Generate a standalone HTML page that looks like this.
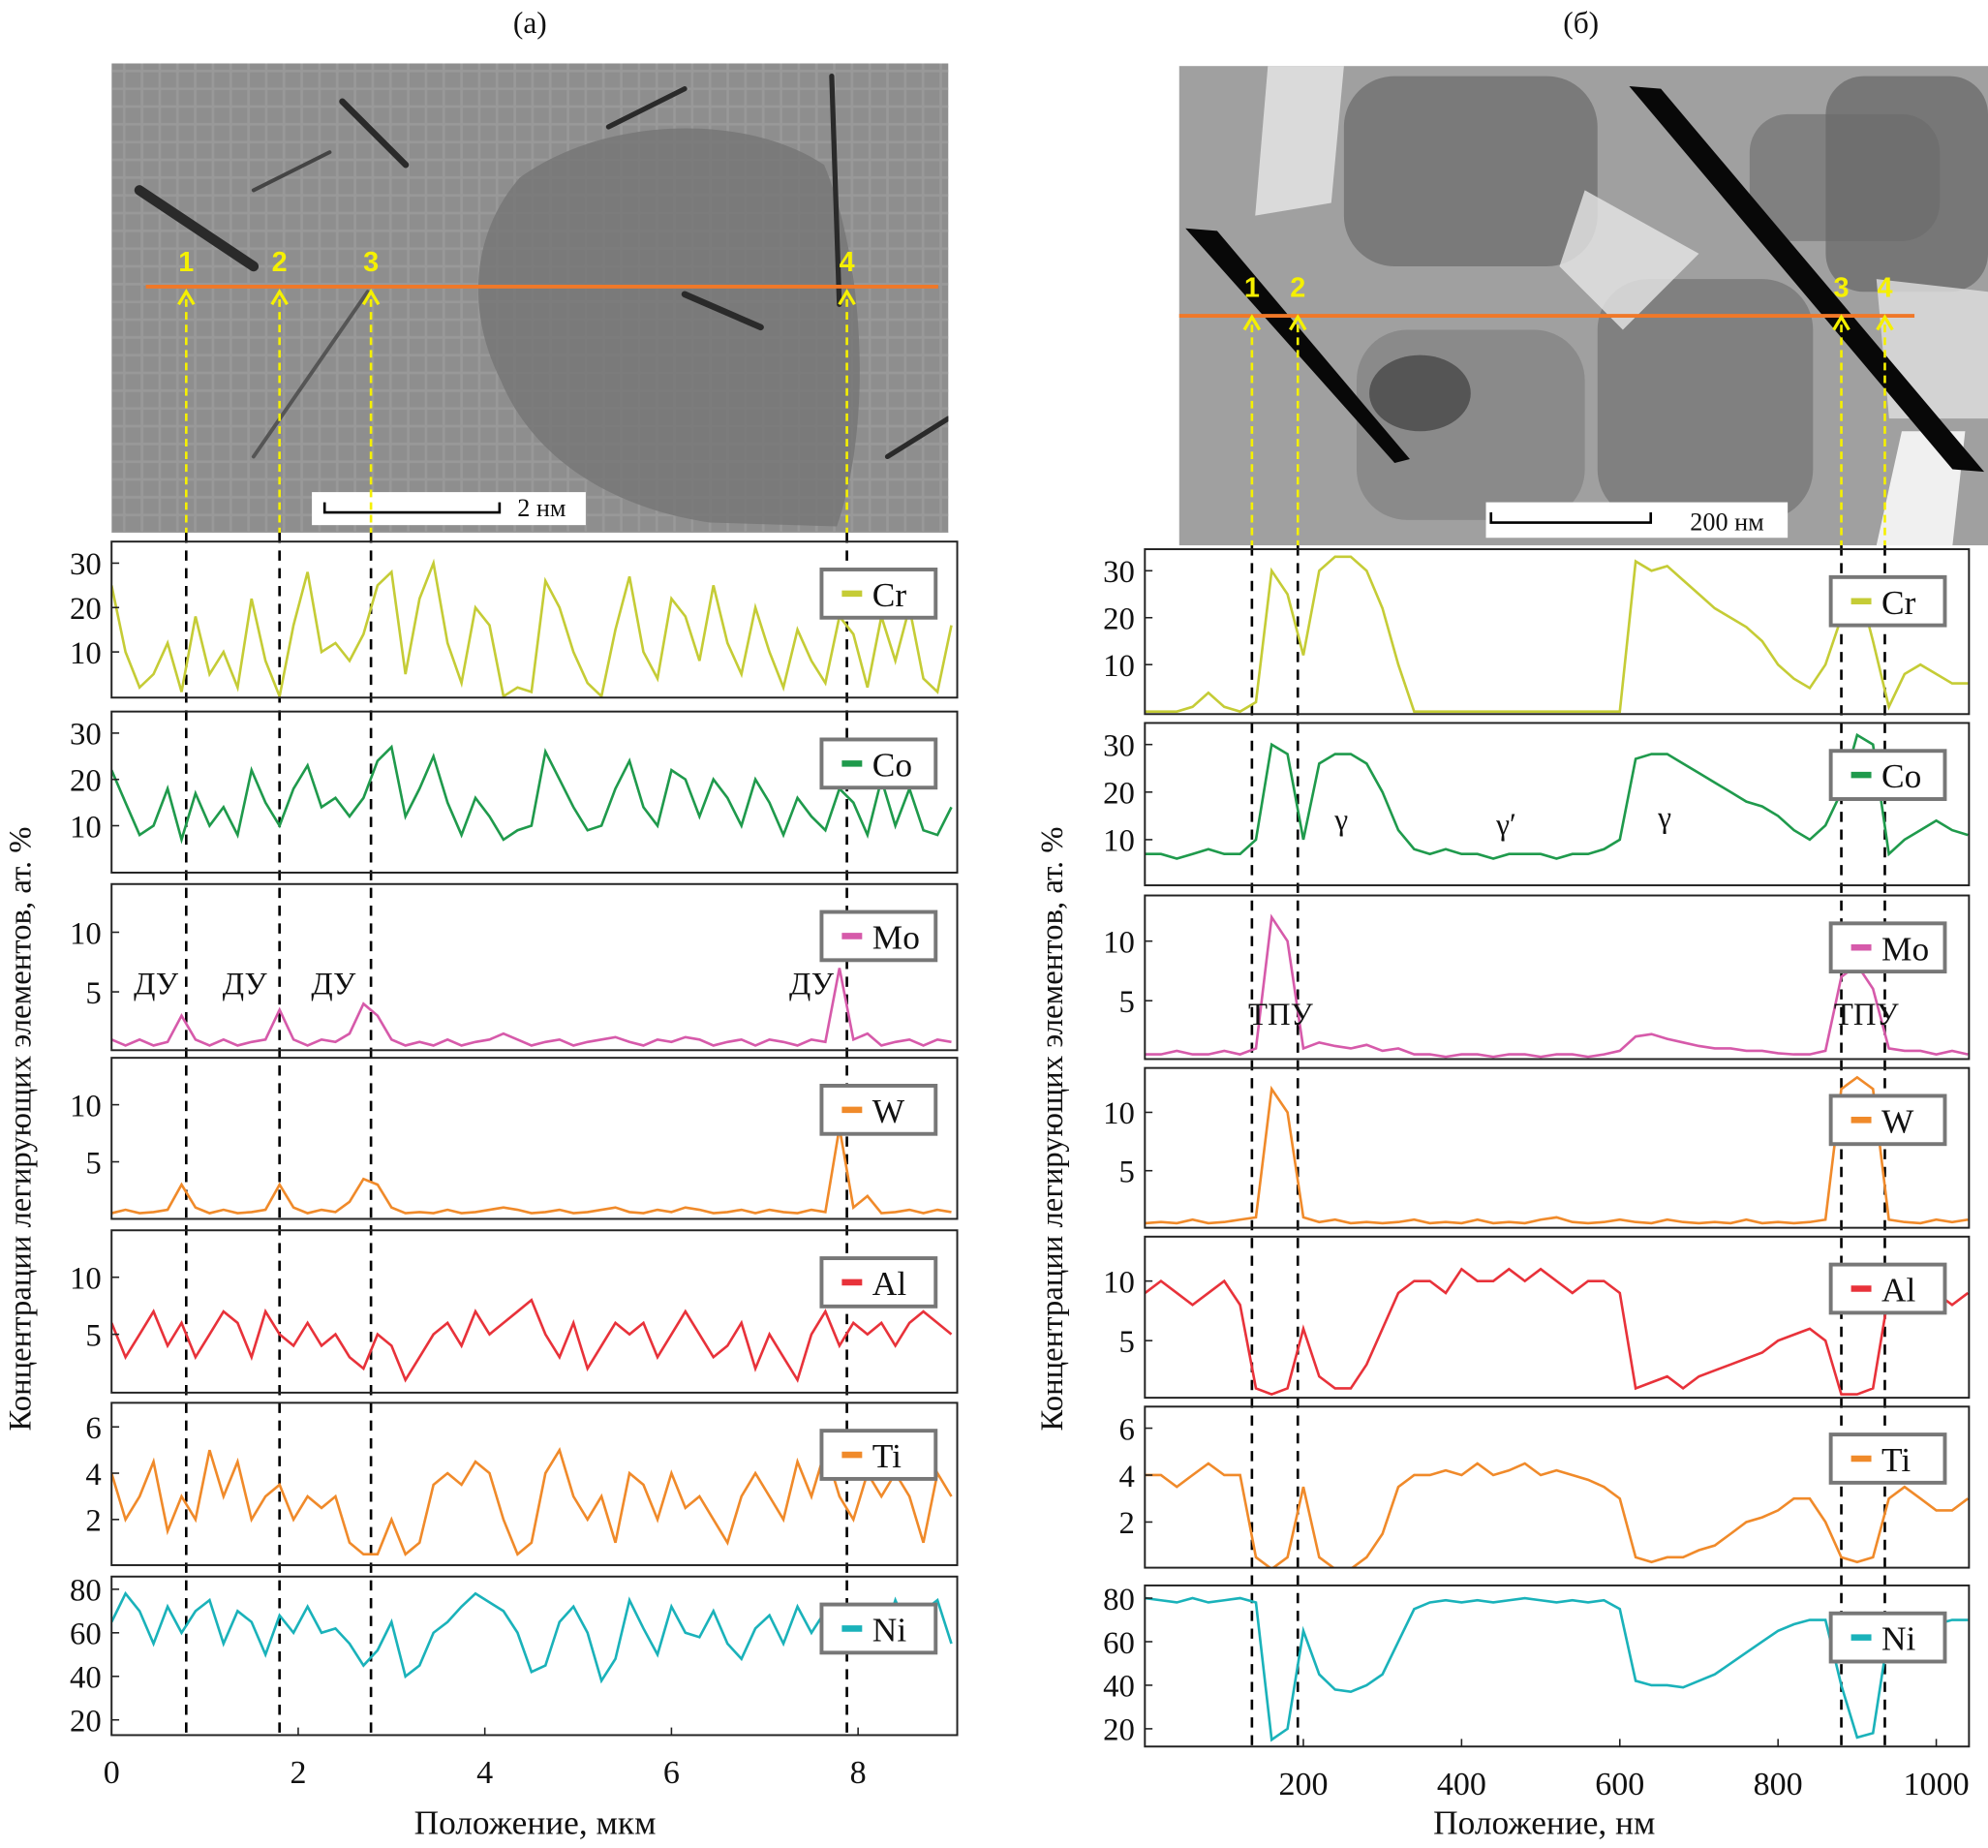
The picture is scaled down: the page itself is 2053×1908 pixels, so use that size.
<!DOCTYPE html>
<html><head><meta charset="utf-8"><style>
html,body{margin:0;padding:0;background:#fff}
svg{display:block}
text{font-family:"Liberation Serif",serif;fill:#111}
</style></head><body>
<svg id="fig" width="2053" height="1908" viewBox="0 0 1568 1457" preserveAspectRatio="none" xmlns="http://www.w3.org/2000/svg">
<defs>
<pattern id="grid" width="14" height="14" patternUnits="userSpaceOnUse"><rect width="14" height="14" fill="none" stroke="#a0a0a0" stroke-width="2"/></pattern>
<clipPath id="clipL"><rect x="88" y="50" width="660" height="370"/></clipPath>
<clipPath id="clipR"><rect x="930" y="52" width="638" height="378"/></clipPath>
</defs>
<text x="418" y="26" font-size="24" text-anchor="middle">(а)</text>
<text x="1247" y="26" font-size="24" text-anchor="middle">(б)</text>
<g clip-path="url(#clipL)">
<rect x="88" y="50" width="660" height="370" fill="#8e8e8e"/>
<rect x="88" y="50" width="660" height="370" fill="url(#grid)" opacity="0.6"/>
<path d="M410,140 C375,180 365,240 395,300 C420,360 480,400 560,412 L660,415 C690,330 680,200 650,130 C590,90 480,90 410,140 Z" fill="#777" opacity="0.85"/>
<g stroke="#2a2a2a" stroke-linecap="round">
<line x1="110" y1="150" x2="200" y2="210" stroke-width="8"/>
<line x1="270" y1="80" x2="320" y2="130" stroke-width="5"/>
<line x1="480" y1="100" x2="540" y2="70" stroke-width="4"/>
<line x1="540" y1="232" x2="600" y2="258" stroke-width="5"/>
<line x1="656" y1="60" x2="662" y2="240" stroke-width="4"/>
<line x1="200" y1="360" x2="290" y2="230" stroke-width="3" stroke="#555"/>
<line x1="700" y1="360" x2="748" y2="330" stroke-width="4"/>
<line x1="200" y1="150" x2="260" y2="120" stroke-width="3" stroke="#444"/>
</g>
<rect x="246" y="388" width="216" height="26" fill="#fff"/>
<path d="M256,396 V404 H394 V396" fill="none" stroke="#000" stroke-width="2"/>
<text x="408" y="407" font-size="20">2 нм</text>
<line x1="115" y1="226" x2="740" y2="226" stroke="#f07828" stroke-width="3"/>
</g>
<g clip-path="url(#clipR)">
<rect x="930" y="52" width="638" height="378" fill="#a0a0a0"/>
<rect x="1060" y="60" width="200" height="150" rx="40" fill="#7a7a7a"/>
<rect x="1070" y="260" width="180" height="150" rx="40" fill="#8a8a8a"/>
<rect x="1260" y="220" width="170" height="190" rx="40" fill="#808080"/>
<rect x="1440" y="60" width="128" height="170" rx="30" fill="#777"/>
<rect x="1380" y="90" width="150" height="100" rx="30" fill="#6a6a6a" opacity="0.6"/>
<path d="M1000,52 L1060,52 L1050,160 L990,170 Z" fill="#e8e8e8" opacity="0.8"/>
<path d="M1250,150 L1340,200 L1280,260 L1230,210 Z" fill="#e6e6e6" opacity="0.8"/>
<path d="M1480,220 L1568,230 L1568,330 L1490,330 Z" fill="#e0e0e0" opacity="0.8"/>
<path d="M1500,340 L1550,340 L1540,430 L1480,430 Z" fill="#f0f0f0"/>
<ellipse cx="1120" cy="310" rx="40" ry="30" fill="#555"/>
<path d="M935,180 L960,182 L1112,362 L1100,365 Z" fill="#080808"/>
<path d="M1285,68 L1310,70 L1565,372 L1540,370 Z" fill="#080808"/>
<rect x="1172" y="396" width="238" height="28" fill="#fff"/>
<path d="M1176,404 V412 H1302 V404" fill="none" stroke="#000" stroke-width="2"/>
<text x="1333" y="418" font-size="20">200 нм</text>
<line x1="930" y1="249" x2="1510" y2="249" stroke="#f07828" stroke-width="3"/>
</g>
<g id="marks"></g>
<g id="panels"></g>
<text transform="translate(24,890) rotate(-90)" font-size="25" text-anchor="middle">Концентрации легирующих элементов, ат. %</text>
<text transform="translate(838,890) rotate(-90)" font-size="25" text-anchor="middle">Концентрации легирующих элементов, ат. %</text>
<text x="422" y="1446" font-size="27" text-anchor="middle">Положение, мкм</text>
<text x="1218" y="1446" font-size="27" text-anchor="middle">Положение, нм</text>
</svg>
<script>
const leftStep = 0.15;
const rightStep = 20;
const elements = ["Cr","Co","Mo","W","Al","Ti","Ni"];
const colors = ["#c5cc36","#1f9a4c","#d65aaa","#f08a2a","#e8323a","#f08a2a","#1ab2ba"];
const leftXTicks = [0,2,4,6,8];
const rightXTicks = [200,400,600,800,1000];
const yTicksCr = [10,20,30];
const yTicksMo = [5,10];
const yTicksTi = [2,4,6];
const yTicksNi = [20,40,60,80];
const leftMarkers = [0.8,1.8,2.78,7.88];
const rightMarkers = [135,193,880,935];
const leftCr = [25,10,2,5,12,1,18,5,10,2,22,8,0,16,28,10,12,8,14,25,28,5,22,30,12,3,20,16,0,2,1,26,20,10,3,0,15,27,10,4,22,18,8,25,12,5,20,10,2,15,8,3,18,14,2,18,8,20,4,1,16];
const leftCo = [22,15,8,10,18,7,17,10,14,8,22,15,10,18,23,14,16,12,16,24,27,12,18,25,15,8,16,12,7,9,10,26,20,14,9,10,18,24,14,10,22,20,12,20,16,10,20,15,8,16,12,9,18,15,8,20,10,18,9,8,14];
const leftMo = [1,0.5,1,0.5,0.8,3,1,0.5,1,0.5,0.8,1,3.5,1,0.5,1,0.8,1.5,4,3,1,0.5,0.8,0.5,1,0.5,0.8,1,1.5,1,0.5,0.8,1,0.5,0.8,1,1.2,0.8,0.5,1,0.8,1.2,1,0.5,0.8,1,0.5,1,0.8,0.5,1,0.8,7,1,1.5,0.5,0.8,1,0.5,1,0.8];
const leftW = [0.5,0.8,0.5,0.6,0.8,3,1,0.5,0.8,0.5,0.6,0.8,3,1,0.5,0.8,0.6,1.5,3.5,3,1,0.5,0.6,0.5,0.8,0.5,0.6,0.8,1,0.8,0.5,0.6,0.8,0.5,0.6,0.8,1,0.6,0.5,0.8,0.6,1,0.8,0.5,0.6,0.8,0.5,0.8,0.6,0.5,0.8,0.6,8,1,2,0.5,0.6,0.8,0.5,0.8,0.6];
const leftAl = [6,3,5,7,4,6,3,5,7,6,3,7,5,4,6,4,5,3,2,5,4,1,3,5,6,4,7,5,6,7,8,5,3,6,2,4,6,5,6,3,5,7,5,3,4,6,2,5,3,1,5,7,4,6,5,6,4,6,7,6,5];
const leftTi = [4,2,3,4.5,1.5,3,2,5,3,4.5,2,3,3.5,2,3,2.5,3,1,0.5,0.5,2,0.5,1,3.5,4,3.5,4.5,4,2,0.5,1,4,5,3,2,3,1,4,3.5,2,4,2.5,3,2,1,3,4,3,2,4.5,3,5,3,2,4,3,4,3,1,4,3];
const leftNi = [65,78,70,55,72,60,70,75,55,70,65,50,68,60,72,60,62,55,45,52,65,40,45,60,65,72,78,74,70,60,42,45,65,72,60,38,48,75,62,50,72,60,58,70,55,48,62,68,55,72,60,70,58,72,62,55,75,60,70,75,55];
const rightCr = [0,0,0,1,4,1,0,2,30,25,12,30,33,33,30,22,10,0,0,0,0,0,0,0,0,0,0,0,0,0,0,32,30,31,28,25,22,20,18,15,10,7,5,10,20,28,15,1,8,10,8,6,6];
const rightCo = [7,7,6,7,8,7,7,10,30,28,10,26,28,28,26,20,12,8,7,8,7,7,6,7,7,7,6,7,7,8,10,27,28,28,26,24,22,20,18,17,15,12,10,13,20,32,30,7,10,12,14,12,11];
const rightMo = [0.5,0.5,0.8,0.5,0.5,0.8,0.5,1,12,10,1,1.5,1.2,1,1.3,0.8,1,0.5,0.5,0.3,0.5,0.5,0.3,0.5,0.5,0.3,0.5,0.5,0.3,0.5,0.8,2,2.2,1.8,1.5,1.2,1,1,0.8,0.8,0.6,0.5,0.5,0.8,7,8,6,1,0.8,0.8,0.5,0.8,0.5];
const rightW = [0.5,0.6,0.5,0.8,0.5,0.6,0.8,1,12,10,1,0.6,0.8,0.5,0.6,0.5,0.6,0.8,0.5,0.6,0.5,0.8,0.5,0.6,0.5,0.8,1,0.6,0.5,0.6,0.8,0.6,0.5,0.8,0.6,0.5,0.6,0.5,0.8,0.5,0.6,0.5,0.6,0.8,12,13,12,0.8,0.6,0.5,0.8,0.6,0.8];
const rightAl = [9,10,9,8,9,10,8,1,0.5,1,6,2,1,1,3,6,9,10,10,9,11,10,10,11,10,11,10,9,10,10,9,1,1.5,2,1,2,2.5,3,3.5,4,5,5.5,6,5,0.5,0.5,1,9,9,8,9,8,9];
const rightTi = [4,4,3.5,4,4.5,4,4,0.5,0,0.5,3.5,0.5,0,0,0.5,1.5,3.5,4,4,4.2,4,4.5,4,4.2,4.5,4,4.2,4,3.8,3.5,3,0.5,0.3,0.5,0.5,0.8,1,1.5,2,2.2,2.5,3,3,2,0.5,0.3,0.5,3,3.5,3,2.5,2.5,3];
const rightNi = [80,79,78,80,78,79,80,78,15,20,65,45,38,37,40,45,60,75,78,79,78,79,78,79,80,79,78,79,78,79,75,42,40,40,39,42,45,50,55,60,65,68,70,70,40,16,18,65,70,70,68,70,70];

const NS="http://www.w3.org/2000/svg";
function mk(tag,attrs,parent){const e=document.createElementNS(NS,tag);for(const k in attrs)e.setAttribute(k,attrs[k]);parent.appendChild(e);return e;}
const panelsG=document.getElementById('panels');
const marksG=document.getElementById('marks');

const leftBoxes=[[427,550],[561,688],[697,828],[834,961],[970,1098],[1106,1234],[1243,1368]];
const rightBoxes=[[433,563],[570,698],[706,835],[842,968],[975,1102],[1109,1236],[1250,1377]];
const leftCal=[[30,444,10,514],[30,578,10,651],[10,735,5,782],[10,871,5,916],[10,1007,5,1052],[6,1125,2,1198],[80,1253,20,1356]];
const rightCal=[[30,450,10,524],[30,587,10,662],[10,742,5,789],[10,877,5,923],[10,1010,5,1057],[6,1126,2,1200],[80,1260,20,1363]];
const tickSets=[yTicksCr,yTicksCr,yTicksMo,yTicksMo,yTicksMo,yTicksTi,yTicksNi];
const leftData=[leftCr,leftCo,leftMo,leftW,leftAl,leftTi,leftNi];
const rightData=[rightCr,rightCo,rightMo,rightW,rightAl,rightTi,rightNi];

function side(opts){
  const {x0,x1,xScale,boxes,cal,data,step,labelX,legX,xticks,tag}=opts;
  boxes.forEach((b,i)=>{
    const g=mk('g',{},panelsG);
    
    
    const c=cal[i];
    const yS=v=>c[1]+(v-c[0])*(c[3]-c[1])/(c[2]-c[0]);
    const cid='cp'+tag+i;
    const cp=mk('clipPath',{id:cid},g);mk('rect',{x:x0,y:b[0],width:x1-x0,height:b[1]-b[0]},cp);
    const pts=data[i].map((v,j)=>xScale(j*step).toFixed(1)+','+yS(v).toFixed(1)).join(' ');
    const pl=mk('polyline',{points:pts,fill:'none',stroke:colors[i],'stroke-width':2,'clip-path':'url(#'+cid+')'},g);
    
    
    mk('rect',{x:x0,y:b[0],width:x1-x0,height:b[1]-b[0],fill:'none',stroke:'#222','stroke-width':1.5},g);
    tickSets[i].forEach(t=>{
      const y=yS(t);
      mk('line',{x1:x0,x2:x0+6,y1:y,y2:y,stroke:'#222','stroke-width':1.2},g);
      const tx=mk('text',{x:labelX,y:y+9,'font-size':25,'text-anchor':'end'},g);tx.textContent=t;
      
      
    });
    const ly=b[0]+22;
    const lg=mk('g',{},g);
    
    
    mk('rect',{x:legX,y:ly,width:90,height:38,fill:'#fff',stroke:'#777','stroke-width':3},lg);
    mk('line',{x1:legX+16,x2:legX+32,y1:ly+19,y2:ly+19,stroke:colors[i],'stroke-width':5},lg);
    const lt=mk('text',{x:legX+40,y:ly+29,'font-size':27},lg);lt.textContent=elements[i];
  });
  const last=boxes[boxes.length-1];
  xticks.forEach(t=>{
    const x=xScale(t);
    mk('line',{x1:x,x2:x,y1:last[1],y2:last[1]-6,stroke:'#222','stroke-width':1.2},panelsG);
    const tx=mk('text',{x:x,y:last[1]+38,'font-size':26,'text-anchor':'middle'},panelsG);tx.textContent=t;
    
    
  });
}
const xL=v=>88+v*73.6;
const xR=v=>903.2+v*0.624;
side({x0:88,x1:755,xScale:xL,boxes:leftBoxes,cal:leftCal,data:leftData,step:leftStep,labelX:80,legX:648,xticks:leftXTicks,tag:'left'});
side({x0:903,x1:1553,xScale:xR,boxes:rightBoxes,cal:rightCal,data:rightData,step:rightStep,labelX:895,legX:1444,xticks:rightXTicks,tag:'right'});

function markers(list,xScale,yArrow,yImgBot,yBot,tag){
  list.forEach((m,i)=>{
    const x=xScale(m);
    const g=mk('g',{},marksG);
    
    
    mk('line',{x1:x,x2:x,y1:yArrow+6,y2:yImgBot,stroke:'#f5f000','stroke-width':2,'stroke-dasharray':'6,4'},g);
    mk('path',{d:`M${x-6},${yArrow+10} L${x},${yArrow} L${x+6},${yArrow+10}`,fill:'none',stroke:'#f5f000','stroke-width':2.5},g);
    const t=mk('text',{x:x,y:yArrow-16,'font-size':22,'font-weight':'bold','text-anchor':'middle',style:'fill:#f5f000;font-family:Liberation Sans,sans-serif'},g);t.textContent=i+1;
    mk('line',{x1:x,x2:x,y1:yImgBot,y2:yBot,stroke:'#000','stroke-width':2,'stroke-dasharray':'8,6'},g);
  });
}
markers(leftMarkers,xL,230,420,1370,'left');
markers(rightMarkers,xR,250,430,1377,'right');

function ann(txt,x,y,size){const t=mk('text',{x:x,y:y,'font-size':size,'text-anchor':'middle'},panelsG);t.textContent=txt;

}
ann('ДУ',123,784,25);ann('ДУ',193,784,25);ann('ДУ',263,784,25);ann('ДУ',640,784,25);
ann('ТПУ',1010,808,25);ann('ТПУ',1472,808,25);
ann('γ',1058,654,24);ann('γ′',1188,658,24);ann('γ',1313,652,24);
</script>
</body></html>
